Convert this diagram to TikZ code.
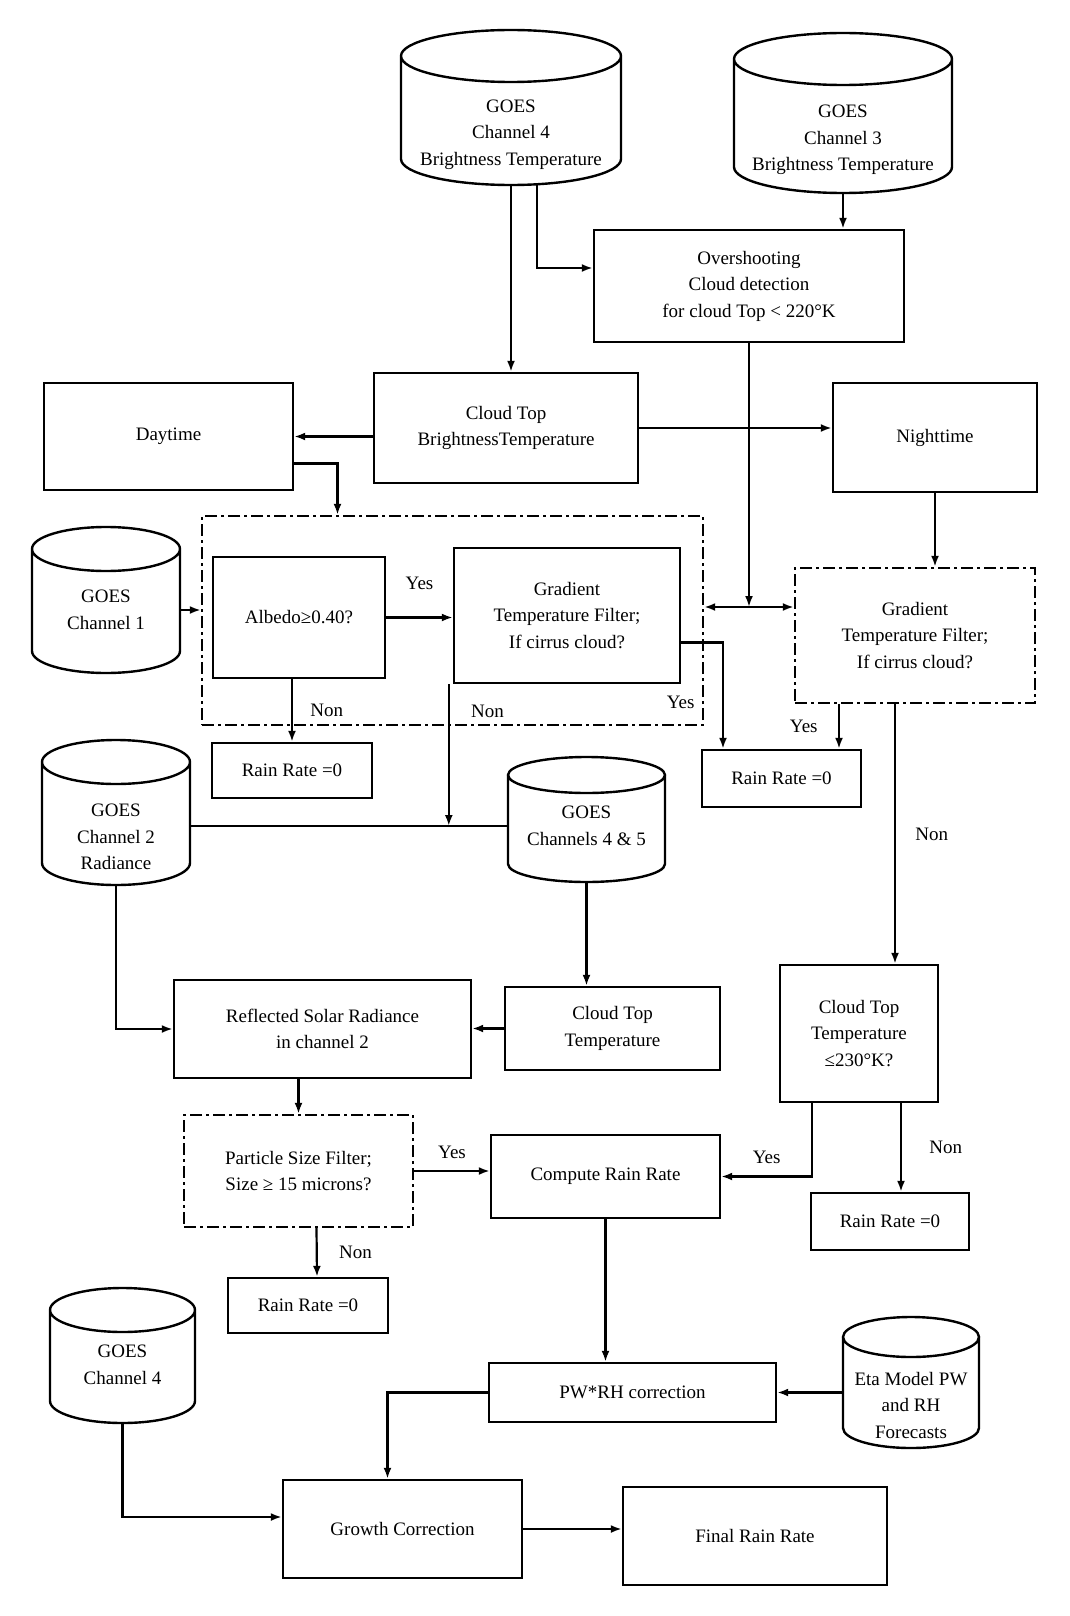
\documentclass[tikz,border=0pt]{standalone}
\usepackage{fontspec}
\setmainfont{Liberation Serif}
\usepackage{tikz}
\usetikzlibrary{arrows.meta, calc}

\newcommand{\boxfont}{\fontsize{19}{26.5}\selectfont}

\begin{document}
\begin{tikzpicture}[x=1pt, y=-1pt,
        box/.style={draw, rectangle, line width=2.4pt, align=center, font=\boxfont},
        filterbox/.style={box, dash pattern=on 12pt off 4pt on 3pt off 4pt},
        dbase/.style={rectangle, align=center, inner sep=0pt, outer sep=0pt, font=\boxfont},
        dims/.style 2 args={minimum width=#1pt, minimum height=#2pt},
        answer/.style={font=\boxfont},
        link/.style={line width=2.2pt},
        arrow/.style={-{Latex[length=11pt, width=8pt]}, line width=2.2pt},
        biarrow/.style={{Latex[length=11pt, width=8pt]}-{Latex[length=11pt, width=8pt]}, line width=2.2pt}
    ]
        \useasboundingbox (0,0) rectangle (1070,1616);

        % Data sources
            \node[dbase, dims={220}{101}] (ch4bt) at (511,134.5) {GOES\\Channel 4\\Brightness Temperature};
            \node[dbase, dims={218}{106}] (ch3bt) at (843,140) {GOES\\Channel 3\\Brightness Temperature};
            \node[dbase, dims={148}{126}] (ch1) at (106,610) {GOES\\Channel 1};
            \node[dbase, dims={148}{96}] (ch2) at (116,837) {GOES\\Channel 2\\Radiance};
            \node[dbase, dims={157}{112}] (ch45) at (586.5,826) {GOES\\Channels 4 \& 5};
            \node[dbase, dims={145}{116}] (ch4) at (122.5,1365) {GOES\\Channel 4};
            \node[dbase, dims={136}{86}] (eta) at (911,1405) {Eta Model PW\\and RH\\Forecasts};

            \foreach \db/\rad/\gap in {ch4bt/26pt/54pt, ch3bt/26pt/54pt, ch1/22pt/20pt, ch2/22pt/49pt,
                    ch45/18pt/13pt, ch4/22pt/19pt, eta/20pt/45pt}
                \draw[line width=2.4pt] let \p1 = ($(\db.east)-(\db.west)$) in
                    ([yshift={\gap-\rad}]\db.north west) -- ([yshift=\rad]\db.south west)
                    arc[start angle=180, end angle=360, x radius={0.5*\x1}, y radius=\rad]
                    -- ([yshift={\gap-\rad}]\db.north east)
                    ([yshift={\gap-\rad}]\db.north) ellipse[x radius={0.5*\x1}, y radius=\rad];

        % Processing steps
            \node[box, dims={310}{112}] (overshoot) at (749,286) {Overshooting\\Cloud detection\\for cloud Top < 220°K};
            \node[box, dims={264}{110}] (cloudbt) at (506,428) {Cloud Top\\BrightnessTemperature};
            \node[box, dims={249}{107}] (daytime) at (168.5,436.5) {Daytime};
            \node[box, dims={204}{109}] (nighttime) at (935,437.5) {Nighttime};
            \node[filterbox, dims={501}{209}] (daygroup) at (452.5,620.5) {};
            \node[box, dims={172}{121}] (albedo) at (299,617.5) {Albedo≥0.40?};
            \node[box, dims={226}{135}] (gradday) at (567,615.5) {Gradient\\Temperature Filter;\\If cirrus cloud?};
            \node[filterbox, dims={240}{135}] (gradnight) at (915,635.5) {Gradient\\Temperature Filter;\\If cirrus cloud?};
            \node[box, dims={160}{55}] (rainday) at (292,770.5) {Rain Rate =0};
            \node[box, dims={159}{57}] (raincirrus) at (781.5,778.5) {Rain Rate =0};
            \node[box, dims={297}{98}] (reflect) at (322.5,1029) {Reflected Solar Radiance\\in channel 2};
            \node[box, dims={215}{83}] (ctt) at (612.5,1028.5) {Cloud Top\\Temperature};
            \node[box, dims={158}{137}] (ctt230) at (859,1033.5) {Cloud Top\\Temperature\\≤230°K?};
            \node[filterbox, dims={229}{112}] (particle) at (298.5,1171) {Particle Size Filter;\\Size ≥ 15 microns?};
            \node[box, dims={229}{83}] (compute) at (605.5,1176.5) {Compute Rain Rate};
            \node[box, dims={158}{57}] (rainnight) at (890,1221.5) {Rain Rate =0};
            \node[box, dims={160}{55}] (rainsize) at (308,1305.5) {Rain Rate =0};
            \node[box, dims={287}{59}] (pwrh) at (632.5,1392.5) {PW*RH correction};
            \node[box, dims={239}{98}] (growth) at (402.5,1529) {Growth Correction};
            \node[box, dims={264}{98}] (final) at (755,1536) {Final Rain Rate};

            % Arrows
            \draw[arrow] (ch4bt.south) -- (ch4bt.south |- cloudbt.north);
            \draw[arrow] ([xshift=26pt]ch4bt.south) |- ([yshift=18pt]overshoot.west);
            \draw[arrow] (ch3bt.south) -- (ch3bt.south |- overshoot.north);
            \draw[arrow] (cloudbt.west |- daytime.east) -- (daytime.east);
            \draw[arrow] (cloudbt.east) -- (cloudbt.east -| nighttime.west);
            \coordinate (merge) at (overshoot.south |- 0,607);
            \draw[arrow] (overshoot.south) -- (merge);
            \draw[biarrow] (daygroup.east |- merge) -- (gradnight.west |- merge);
            \draw[arrow] ([yshift=-27pt]daytime.east) -| ([xshift=-115pt]daygroup.north);
            \draw[arrow] (ch1.east) -- (ch1.east -| daygroup.west);
            \draw[arrow] (albedo.east) -- (albedo.east -| gradday.west) node[answer, midway, above=23pt] (yes1) {Yes};
            \draw[arrow] (albedo.south -| rainday.north) -- (rainday.north) node[answer, midway, right=14pt] (non1) {Non};
            \draw[arrow] ([yshift=-27pt]gradday.east) -| ([xshift=-58.5pt]raincirrus.north) node[answer, pos=0.78, left=24pt] (yes2) {Yes};
            \draw[link] (ch2.east |- ch45.west) -- (ch45.west);
            \draw[arrow] ([xshift=-4pt]gradday.south west) -- ([xshift=-4pt]gradday.south west |- ch45.west) node[answer, pos=0.19, right=18pt] (non2) {Non};
            \draw[arrow] (nighttime.south) -- (nighttime.south |- gradnight.north);
            \draw[arrow] ([xshift=-76pt]gradnight.south) -- ([xshift=-76pt]gradnight.south |- raincirrus.north) node[answer, midway, left=17pt] (yes3) {Yes};
            \draw[arrow] ([xshift=-20pt]gradnight.south) -- ([xshift=-20pt]gradnight.south |- ctt230.north) node[answer, midway, right=16pt] (non3) {Non};
            \draw[arrow] (ch2.south) |- (reflect.west);
            \draw[arrow] (ch45.south) -- (ch45.south |- ctt.north);
            \draw[arrow] (ctt.west) -- (ctt.west -| reflect.east);
            \draw[arrow] (reflect.south -| particle.north) -- (particle.north);
            \draw[arrow] (particle.east) -- (particle.east -| compute.west) node[answer, midway, above=8pt] (yes4) {Yes};
            \draw[arrow] ([xshift=-47pt]ctt230.south) |- (compute.east) node[answer, pos=0.75, above=8pt] (yes5) {Yes};
            \draw[arrow] ([xshift=42pt]ctt230.south) -- ([xshift=11pt]rainnight.north) node[answer, midway, right=24pt] (non4) {Non};
            \draw[arrow] ([xshift=18pt]particle.south) -- ([xshift=9pt]rainsize.north) node[answer, midway, right=18pt] (non5) {Non};
            \draw[arrow] (compute.south) -- (compute.south |- pwrh.north);
            \draw[arrow] (eta.west |- pwrh.east) -- (pwrh.east);
            \draw[arrow] (pwrh.west) -| ([xshift=-15pt]growth.north);
            \draw[arrow] (ch4.south) |- ([yshift=12pt]growth.west);
            \draw[arrow] (growth.east) -- (growth.east -| final.west);
    \end{tikzpicture}
\end{document}
